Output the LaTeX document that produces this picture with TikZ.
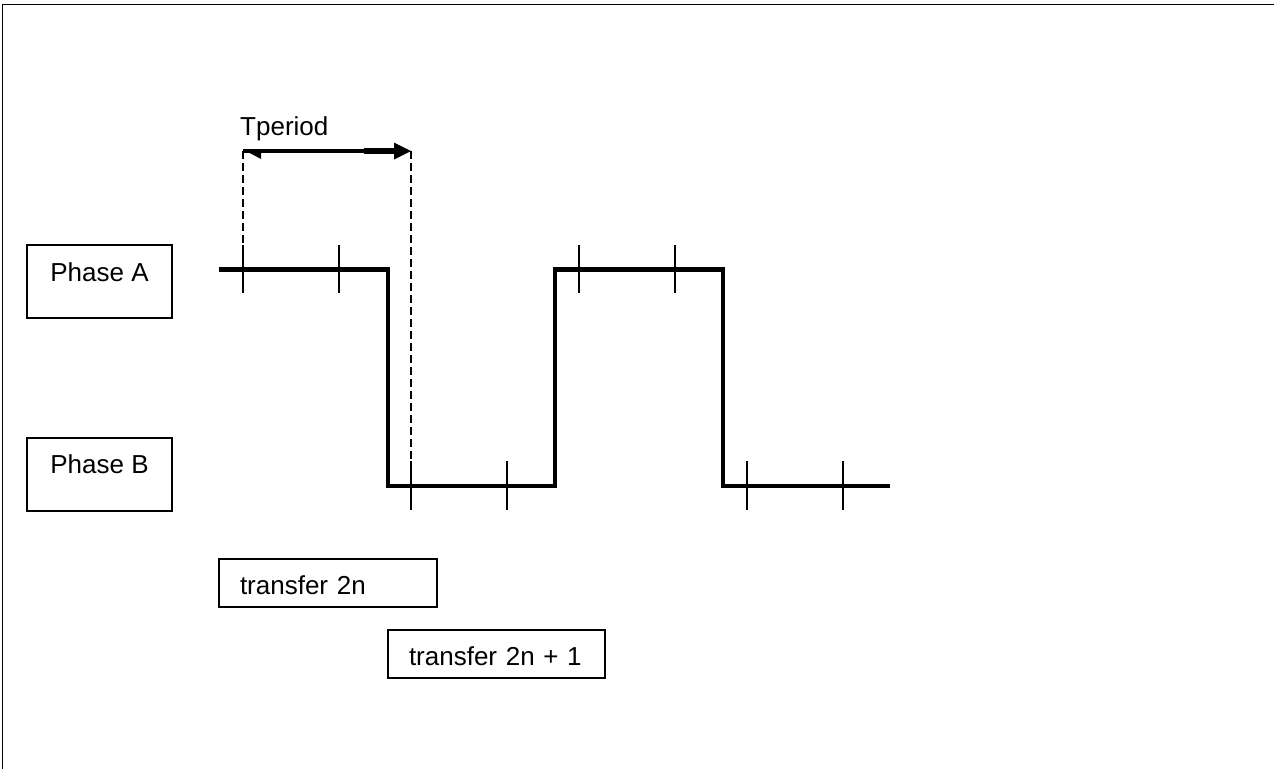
\documentclass[tikz,border=0pt]{standalone}
\usepackage{fontspec}
\setmainfont{Liberation Sans}
\usetikzlibrary{calc}
\begin{document}
\begin{tikzpicture}[x=1pt,y=-1pt,
  txt/.style={font=\fontsize{26}{30}\selectfont},
  phasebox/.style={txt,draw,line width=2pt,minimum width=145pt,minimum height=73pt,
    text height=18pt,text depth=19pt,inner sep=0pt},
  xferbox/.style={txt,draw,line width=2pt,minimum height=48pt,inner xsep=21pt,inner ysep=0pt,
    text height=22pt,text depth=0pt,align=left},
  wave/.style={line width=4.8pt,line join=miter,line cap=butt},
  tick/.style={line width=1.6pt},
  guide/.style={line width=1.6pt,dash pattern=on 8pt off 4pt}]
\useasboundingbox (0,0) rectangle (1274,769);
% frame edges
\draw[line width=1.6pt] (2.5,769) -- (2.5,4.5) -- (1274,4.5);

% channel labels
\node[phasebox] (phaseA) at (99.5,281.5) {Phase A};
\node[phasebox] (phaseB) at (99.5,474) {Phase B};

% transfer windows
\node[xferbox,text width=176pt,anchor=north west] (xfer0) at (218,558) {\mbox{transfer 2n}};
\node[xferbox,text width=175pt,anchor=north west] (xfer1) at (387,629) {\mbox{transfer 2n + 1}};

% waveform corners
\coordinate (w0) at (219,269.5);
\coordinate (w1) at (388,269.5);
\coordinate (w2) at (388,486);
\coordinate (w3) at (555,486);
\coordinate (w4) at (555,269.5);
\coordinate (w5) at (723,269.5);
\coordinate (w6) at (723,486);
\coordinate (w7) at (890,486);
\draw[wave] (w0) -- (w1) -- (w2) -- (w3) -- (w4) -- (w5) -- (w6) -- (w7);

% tick marks on the high level
\foreach \x/\n in {243/a1,339/a2,579/a3,675/a4}{
  \coordinate (\n t) at (\x,245);
  \coordinate (\n b) at (\x,293);
  \draw[tick] (\n t) -- (\n b);
}
% tick marks on the low level
\foreach \x/\n in {411/b1,507/b2,747/b3,843/b4}{
  \coordinate (\n t) at (\x,461);
  \coordinate (\n b) at (\x,510);
  \draw[tick] (\n t) -- (\n b);
}

% period marker
\coordinate (pl) at (243,151);
\coordinate (pr) at (411,151);
\coordinate (pm) at (364,151);
\coordinate (ph) at (394,151);
\draw[guide] (pl) -- (a1t);
\draw[guide] (pr) -- (b1t);
\draw[line width=3.2pt] (pl) -- (ph);
\draw[line width=6.5pt] (pm) -- (ph);
\fill ($(ph)+(0,-8.5)$) -- (pr) -- ($(ph)+(0,8.5)$) -- cycle;
\fill ($(pl)+(0,-1.6)$) -- ($(pl)+(18,8)$) -- ($(pl)+(18,-1.6)$) -- cycle;
\node[txt,anchor=base west,inner sep=0pt] (tper) at (240,135) {Tperiod};
\end{tikzpicture}
\end{document}
